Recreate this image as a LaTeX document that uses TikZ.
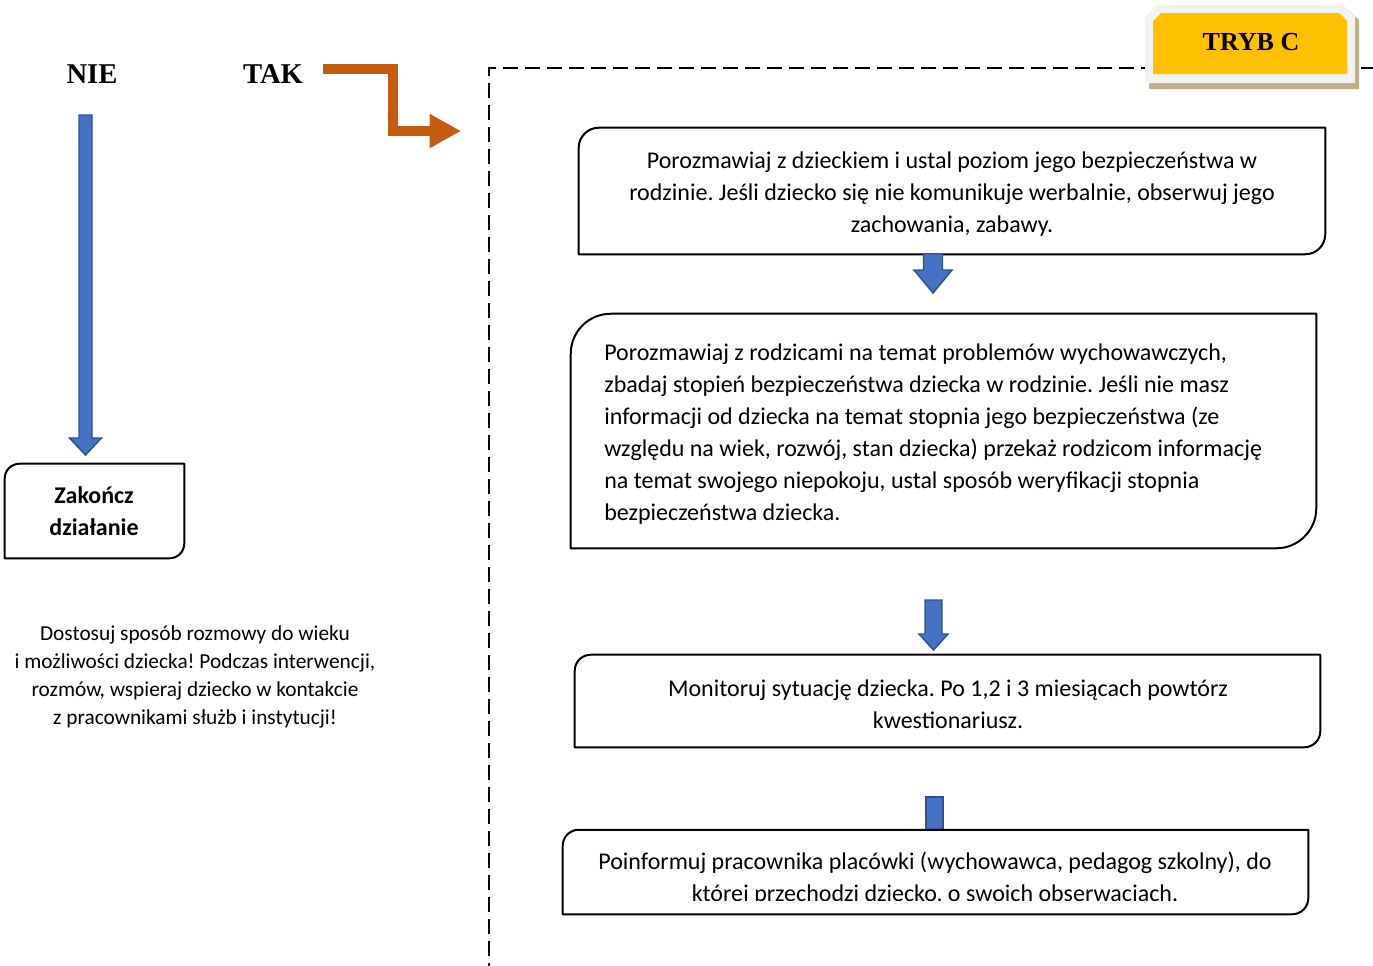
\documentclass[tikz,border=0pt]{standalone}
\usepackage{fontspec}
\setmainfont{Carlito}
\newfontfamily\tnr{Liberation Serif}
\usetikzlibrary{arrows.meta,calc}
\definecolor{bfill}{HTML}{4472C4}
\definecolor{bedge}{HTML}{2F528F}
\definecolor{orng}{HTML}{C55A11}
\definecolor{ylw}{HTML}{FFC000}
\definecolor{shd}{HTML}{BFAE84}
\definecolor{lgray}{HTML}{F2F2F2}
\frenchspacing
% block arrow: cx, ytop, ybase, ytip, half shaft, half head
\newcommand\blockarr[6]{%
  \draw[bluearr] (#1-#5,#2) -- (#1+#5,#2) -- (#1+#5,#3) -- (#1+#6,#3) -- (#1,#4) -- (#1-#6,#3) -- (#1-#5,#3) -- cycle;}
% outline with rounded top-left and bottom-right corners around node #1, radius #2 (pt)
\newcommand\diagoutline[2]{%
  \draw[boxline] ([xshift=#2]#1.north west) -- (#1.north east) -- ([yshift=#2]#1.south east)
    .. controls ([yshift=0.448*#2]#1.south east) and ([xshift=-0.448*#2]#1.south east) .. ([xshift=-#2]#1.south east)
    -- (#1.south west) -- ([yshift=-#2]#1.north west)
    .. controls ([yshift=-0.448*#2]#1.north west) and ([xshift=0.448*#2]#1.north west) .. ([xshift=#2]#1.north west) -- cycle;}
\begin{document}
\begin{tikzpicture}[x=0.75pt,y=-0.75pt,
  boxline/.style={line width=1.5pt, draw=black, line join=round},
  bluearr/.style={fill=bfill, draw=bedge, line width=1.1pt, line join=miter},
  boxnode/.style={inner sep=0pt, align=center, font=\fontsize{18}{24}\selectfont},
  frame/.style={line width=1.3pt, dash pattern=on 11pt off 5.5pt},
  yn/.style={font=\tnr\bfseries\fontsize{21.5}{24}\selectfont, inner sep=0pt}]
\useasboundingbox (0,0) rectangle (1373,965);
\clip (0,0) rectangle (1373,965);
\fill[white] (0,0) rectangle (1373,965);

% dashed frame
\draw[frame] (489,1000) -- (489,68) -- (1400,68);

% TRYB C badge
\fill[shd] (1149,20) -- (1160,9) -- (1347,9) -- (1359,20) -- (1359,89) -- (1149,89) -- cycle;
\fill[lgray] (1145,17) -- (1157,5) -- (1343,5) -- (1355,17) -- (1355,83) -- (1145,83) -- cycle;
\fill[ylw] (1153,21) -- (1161,13) -- (1339,13) -- (1347,21) -- (1347,74) -- (1153,74) -- cycle;
\node[font=\tnr\bfseries\fontsize{19.5}{24}\selectfont, inner sep=0pt] (tryb) at (1251,42) {TRYB C};

% NIE / TAK
\node[yn] (nie) at (92,74) {NIE};
\node[yn] (tak) at (273,74) {TAK};

% orange arrow from TAK to the frame
\coordinate (o1) at (323,69);
\coordinate (o2) at (461,131);
\draw[orng, line width=8pt, line join=miter, -{Triangle[width=24pt,length=23.5pt]}] (o1) -| ($(o2)+(-68,0)$) -- (o2);

% left arrow and end box
\node[inner sep=0pt, minimum width=179*0.75pt, minimum height=94*0.75pt] (end) at (94.5,511) {};
\diagoutline{end}{11pt}
\node[boxnode, font=\bfseries\fontsize{18}{24}\selectfont] (endt) at (94,511) {Zakończ\\działanie};
\blockarr{85.5}{115}{438}{455}{6.5}{16}

% note
\node[inner sep=0pt, align=center, font=\fontsize{16}{21}\selectfont] (note) at (195,677)
  {Dostosuj sposób rozmowy do wieku\\i możliwości dziecka! Podczas interwencji,\\rozmów, wspieraj dziecko w kontakcie\\z pracownikami służb i instytucji!};

% box 1
\node[boxnode, minimum width=746*0.75pt, minimum height=126*0.75pt] (b1) at (952,191) {};
\diagoutline{b1}{15pt}
\node[boxnode] (t1) at (952,194)
  {Porozmawiaj z dzieckiem i ustal poziom jego bezpieczeństwa w\\rodzinie. Jeśli dziecko się nie komunikuje werbalnie, obserwuj jego\\zachowania, zabawy.};

% box 2
\node[inner sep=0pt, minimum width=745*0.75pt, minimum height=234*0.75pt] (b2) at (943.5,431) {};
\diagoutline{b2}{30pt}
\node[boxnode, align=left, anchor=west] (t2) at (604,434)
  {Porozmawiaj z rodzicami na temat problemów wychowawczych,\\zbadaj stopień bezpieczeństwa dziecka w rodzinie. Jeśli nie masz\\informacji od dziecka na temat stopnia jego bezpieczeństwa (ze\\względu na wiek, rozwój, stan dziecka) przekaż rodzicom informację\\na temat swojego niepokoju, ustal sposób weryfikacji stopnia\\bezpieczeństwa dziecka.};

% box 3
\node[boxnode, minimum width=745*0.75pt, minimum height=92*0.75pt] (b3) at (947.5,701) {};
\diagoutline{b3}{12pt}
\node[boxnode] (t3) at (948,704)
  {Monitoruj sytuację dziecka. Po 1,2 i 3 miesiącach powtórz\\kwestionariusz.};

% box 4
\node[inner sep=0pt, minimum width=745*0.75pt, minimum height=84*0.75pt] (b4) at (935.5,872) {};
\begin{scope}
\clip (560,820) rectangle (1320,900);
\node[boxnode] (t4) at (935,879)
  {Poinformuj pracownika placówki (wychowawca, pedagog szkolny), do\\której przechodzi dziecko, o swoich obserwacjach.};
\end{scope}

% blue arrows between boxes
\blockarr{933}{254}{270}{293}{9.5}{19}
\blockarr{933.5}{600}{634}{650}{8.5}{14.5}
\draw[bluearr] (926,797) rectangle (943,830);
\diagoutline{b4}{12pt}
\end{tikzpicture}
\end{document}
